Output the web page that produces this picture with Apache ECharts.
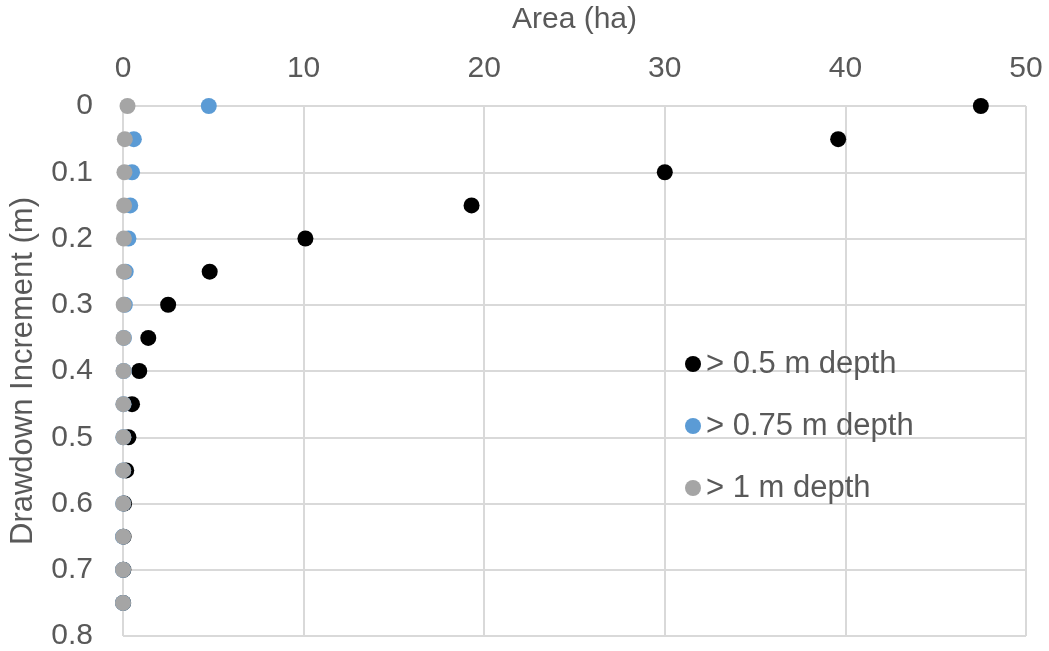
<!DOCTYPE html>
<html>
<head>
<meta charset="utf-8">
<script src="https://cdn.jsdelivr.net/npm/echarts@6/dist/echarts.min.js"></script>
<style>
  html, body { margin: 0; padding: 0; background: #ffffff; }
  #chart { width: 1049px; height: 651px; }
</style>
</head>
<body>
<div id="chart"></div>
<script>
// Drawdown increments (m), one row per step
const drawdown = [0, 0.05, 0.1, 0.15, 0.2, 0.25, 0.3, 0.35, 0.4, 0.45, 0.5, 0.55, 0.6, 0.65, 0.7, 0.75];

// Area (ha) still exceeding each depth threshold
const areaOver050 = [47.5, 39.6, 30.0, 19.3, 10.1, 4.8, 2.5, 1.4, 0.9, 0.5, 0.3, 0.18, 0.06, 0.03, 0.02, 0.01];
const areaOver075 = [4.75, 0.6, 0.5, 0.4, 0.3, 0.15, 0.1, 0.05, 0.04, 0.03, 0.02, 0.01, 0.01, 0, 0, 0];
const areaOver100 = [0.25, 0.1, 0.08, 0.06, 0.05, 0.05, 0.04, 0.03, 0.03, 0.02, 0.02, 0.01, 0.01, 0.01, 0, 0];

const seriesNames = ['> 0.5 m depth', '> 0.75 m depth', '> 1 m depth'];
const seriesColors = ['#000000', '#5b9bd5', '#a5a5a5'];
const seriesValues = [areaOver050, areaOver075, areaOver100];

const textColor = '#595959';
const gridColor = '#d9d9d9';
const font = 'Liberation Sans, Arial, sans-serif';

const chart = echarts.init(document.getElementById('chart'));

chart.setOption({
  animation: false,
  backgroundColor: '#ffffff',
  grid: { left: 123, right: 23, top: 106, bottom: 14, containLabel: false },
  legend: {
    orient: 'vertical',
    left: 680,
    top: 343,
    icon: 'circle',
    itemWidth: 16,
    itemHeight: 16,
    itemGap: 30,
    textStyle: { color: textColor, fontSize: 31, fontFamily: font, lineHeight: 32, padding: [0, 0, 0, 0] },
    data: seriesNames
  },
  xAxis: {
    type: 'value',
    position: 'top',
    min: 0,
    max: 50,
    interval: 10,
    name: 'Area (ha)',
    nameLocation: 'middle',
    nameGap: 71,
    nameTextStyle: { color: textColor, fontSize: 30, fontFamily: font },
    axisLine: { show: false },
    axisTick: { show: false },
    axisLabel: { color: textColor, fontSize: 30, fontFamily: font, margin: 22 },
    splitLine: { show: true, lineStyle: { color: gridColor, width: 2 } }
  },
  yAxis: {
    type: 'value',
    inverse: true,
    min: 0,
    max: 0.8,
    interval: 0.1,
    name: 'Drawdown Increment (m)',
    nameLocation: 'middle',
    nameGap: 84,
    nameTextStyle: { color: textColor, fontSize: 31, fontFamily: font },
    axisLine: { show: false },
    axisTick: { show: false },
    axisLabel: { color: textColor, fontSize: 30, fontFamily: font, margin: 30 },
    splitLine: { show: true, lineStyle: { color: gridColor, width: 2 } }
  },
  series: seriesNames.map((name, i) => ({
    name: name,
    type: 'scatter',
    symbol: 'circle',
    symbolSize: 16,
    itemStyle: { color: seriesColors[i], opacity: 1 },
    emphasis: { disabled: true },
    z: 2 + i,
    data: drawdown.map((d, j) => [seriesValues[i][j], d])
  }))
});
</script>
</body>
</html>
